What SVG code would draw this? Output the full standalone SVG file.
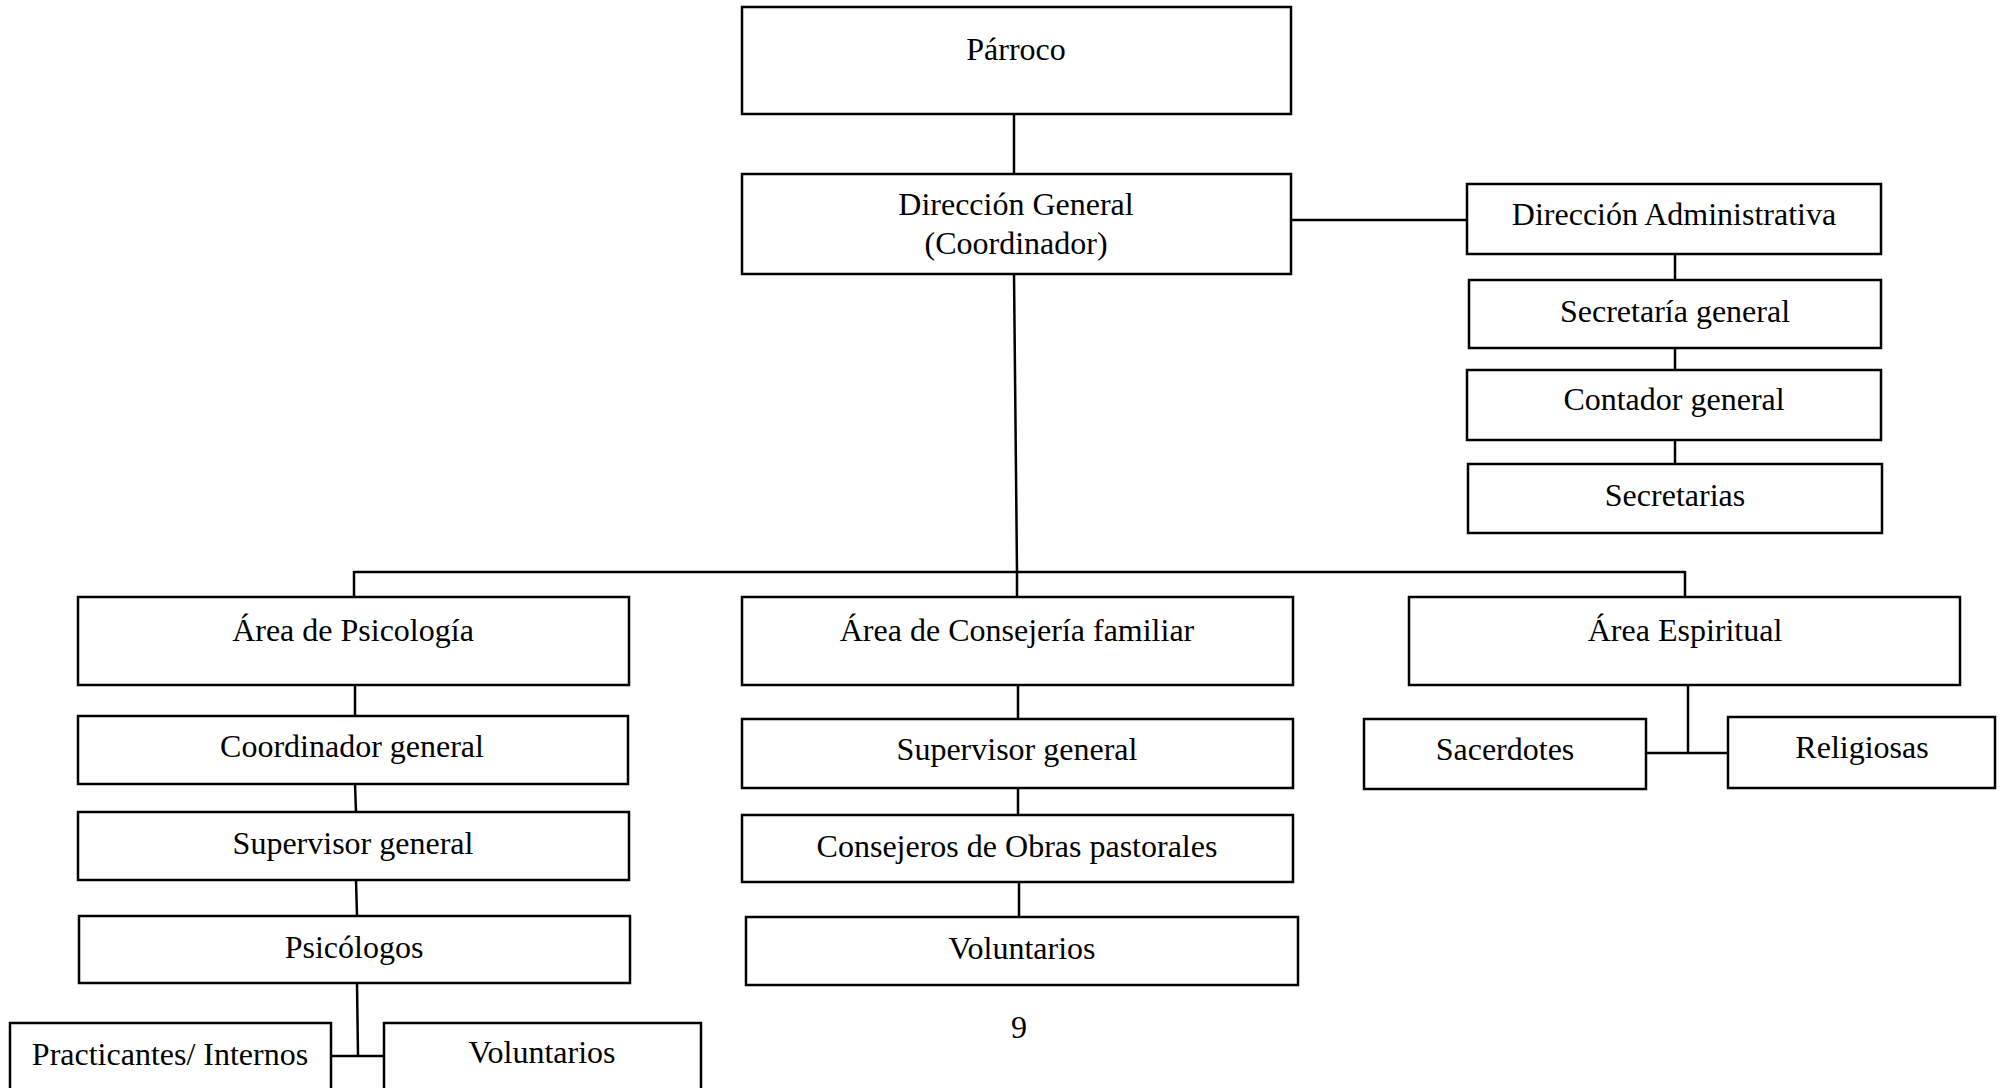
<svg xmlns="http://www.w3.org/2000/svg" width="2005" height="1088" viewBox="0 0 2005 1088">
<style>
rect{fill:#fff;stroke:#000;stroke-width:2.5}
.c line{stroke:#000;stroke-width:2.5}
text{font-family:"Liberation Serif","Times New Roman",serif;font-size:32px;fill:#000;text-anchor:middle}
</style>
<rect x="0" y="0" width="2005" height="1088" style="stroke:none"/>
<g class="c" id="connectors">
<line x1="1014" y1="114" x2="1014" y2="174"/>
<line x1="1291" y1="220" x2="1467" y2="220"/>
<line x1="1675" y1="254" x2="1675" y2="280"/>
<line x1="1675" y1="348" x2="1675" y2="370"/>
<line x1="1675" y1="440" x2="1675" y2="464"/>
<line x1="1014" y1="274" x2="1017" y2="572"/>
<line x1="354" y1="572" x2="1685" y2="572"/>
<line x1="354" y1="571" x2="354" y2="597"/>
<line x1="1017" y1="571" x2="1017" y2="597"/>
<line x1="1685" y1="571" x2="1685" y2="597"/>
<line x1="355" y1="685" x2="355" y2="716"/>
<line x1="355" y1="784" x2="356" y2="812"/>
<line x1="356" y1="880" x2="357" y2="916"/>
<line x1="357" y1="983" x2="358" y2="1056"/>
<line x1="331" y1="1056" x2="384" y2="1056"/>
<line x1="1018" y1="685" x2="1018" y2="719"/>
<line x1="1018" y1="788" x2="1018" y2="815"/>
<line x1="1019" y1="882" x2="1019" y2="917"/>
<line x1="1688" y1="685" x2="1688" y2="753"/>
<line x1="1646" y1="753" x2="1728" y2="753"/>
</g>
<g id="parroco"><rect x="742" y="7" width="549" height="107"/><text x="1016" y="60">Párroco</text></g>
<g id="direccion-general"><rect x="742" y="174" width="549" height="100"/><text x="1016" y="215">Dirección General</text><text x="1016" y="254">(Coordinador)</text></g>
<g id="direccion-administrativa"><rect x="1467" y="184" width="414" height="70"/><text x="1674" y="225">Dirección Administrativa</text></g>
<g id="secretaria-general"><rect x="1469" y="280" width="412" height="68"/><text x="1675" y="322">Secretaría general</text></g>
<g id="contador-general"><rect x="1467" y="370" width="414" height="70"/><text x="1674" y="410">Contador general</text></g>
<g id="secretarias"><rect x="1468" y="464" width="414" height="69"/><text x="1675" y="506">Secretarias</text></g>
<g id="area-psicologia"><rect x="78" y="597" width="551" height="88"/><text x="353" y="641">Área de Psicología</text></g>
<g id="coordinador-general"><rect x="78" y="716" width="550" height="68"/><text x="352" y="757">Coordinador general</text></g>
<g id="supervisor-general-psi"><rect x="78" y="812" width="551" height="68"/><text x="353" y="854">Supervisor general</text></g>
<g id="psicologos"><rect x="79" y="916" width="551" height="67"/><text x="354" y="958">Psicólogos</text></g>
<g id="practicantes"><rect x="10" y="1023" width="321" height="80"/><text x="170" y="1065">Practicantes/ Internos</text></g>
<g id="voluntarios-psi"><rect x="384" y="1023" width="317" height="80"/><text x="542" y="1063">Voluntarios</text></g>
<g id="area-consejeria"><rect x="742" y="597" width="551" height="88"/><text x="1017" y="641">Área de Consejería familiar</text></g>
<g id="supervisor-general-con"><rect x="742" y="719" width="551" height="69"/><text x="1017" y="760">Supervisor general</text></g>
<g id="consejeros"><rect x="742" y="815" width="551" height="67"/><text x="1017" y="857">Consejeros de Obras pastorales</text></g>
<g id="voluntarios-con"><rect x="746" y="917" width="552" height="68"/><text x="1022" y="959">Voluntarios</text></g>
<g id="area-espiritual"><rect x="1409" y="597" width="551" height="88"/><text x="1685" y="641">Área Espiritual</text></g>
<g id="sacerdotes"><rect x="1364" y="719" width="282" height="70"/><text x="1505" y="760">Sacerdotes</text></g>
<g id="religiosas"><rect x="1728" y="717" width="267" height="71"/><text x="1862" y="758">Religiosas</text></g>
<text x="1019" y="1038">9</text>
</svg>
